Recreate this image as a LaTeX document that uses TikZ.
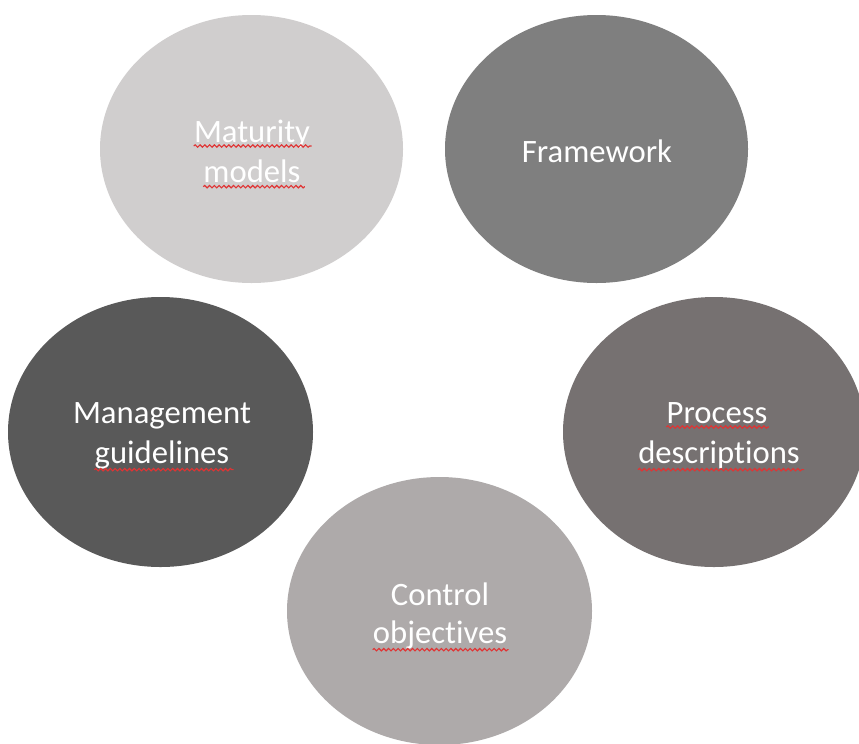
\documentclass[tikz,border=0pt]{standalone}
\usepackage{fontspec}
\setmainfont{Carlito}[Ligatures={NoCommon}]
\usetikzlibrary{shapes.geometric,decorations.pathmorphing}
\definecolor{cMat}{HTML}{D0CECE}
\definecolor{cFw}{HTML}{7F7F7F}
\definecolor{cMg}{HTML}{595959}
\definecolor{cPd}{HTML}{767171}
\definecolor{cCo}{HTML}{AEAAAA}
\definecolor{squigred}{HTML}{E03434}
\begin{document}
\begin{tikzpicture}[x=0.75pt,y=-0.75pt,
  blob/.style={ellipse,inner sep=0pt,draw=none},
  lbl/.style={text=white,font=\fontsize{24.5pt}{30pt}\selectfont,inner sep=0pt,anchor=base},
  squig/.style={draw=squigred,line width=0.85pt,decorate,decoration={snake,amplitude=0.9pt,segment length=3.6pt}}]
\useasboundingbox (0,0) rectangle (859,743);
\clip (0,0) rectangle (859,743);
\fill[white] (0,0) rectangle (859,743);
% ellipses
\node[blob,fill=cMat,minimum width=227.25pt,minimum height=201pt] (mat) at (251.5,149) {};
\node[blob,fill=cFw,minimum width=227.25pt,minimum height=201pt] (fw) at (596.5,149) {};
\node[blob,fill=cMg,minimum width=228.75pt,minimum height=202.5pt] (mg) at (160.5,432) {};
\node[blob,fill=cPd,minimum width=226.5pt,minimum height=202.5pt] (pd) at (714,432) {};
\node[blob,fill=cCo,minimum width=228.75pt,minimum height=201pt] (co) at (439.5,611) {};
% labels
\node[lbl] (matA) at (252,142) {Maturity};
\node[lbl] (matB) at (252,182) {models};
\node[lbl] (fwA) at (597,162) {Framework};
\node[lbl] (mgA) at (162,423) {Management};
\node[lbl] (mgB) at (162,463) {guidelines};
\node[lbl] (pdA) at (717,423) {Process};
\node[lbl] (pdB) at (719,463) {descriptions};
\node[lbl] (coA) at (440,605) {Control};
\node[lbl] (coB) at (440,643) {objectives};
% spell-check squiggles
\draw[squig] ([yshift=-3pt]matA.base west) -- ([yshift=-3pt,xshift=1pt]matA.base east);
\draw[squig] ([yshift=-3.5pt]matB.base west) -- ([yshift=-3.5pt,xshift=3pt]matB.base east);
\draw[squig] ([yshift=-5pt]mgB.base west) -- ([yshift=-5pt,xshift=3pt]mgB.base east);
\draw[squig] ([yshift=-3pt]pdA.base west) -- ([yshift=-3pt,xshift=1pt]pdA.base east);
\draw[squig] ([yshift=-5pt]pdB.base west) -- ([yshift=-5pt,xshift=3pt]pdB.base east);
\draw[squig] ([yshift=-5pt]coB.base west) -- ([yshift=-5pt,xshift=1pt]coB.base east);
\end{tikzpicture}
\end{document}
